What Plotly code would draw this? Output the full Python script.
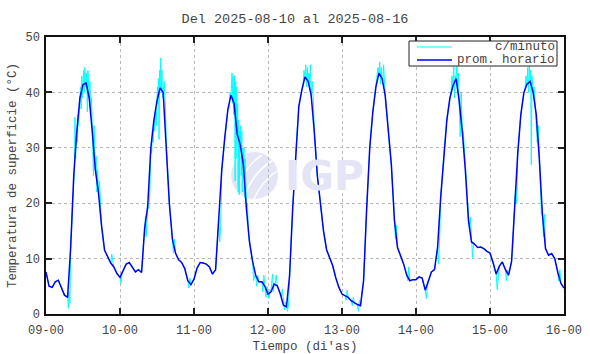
import plotly.graph_objects as go
import pandas as pd

# ---------------- data (hourly averages) ----------------
d09 = [7.6, 5.0, 4.8, 5.8, 6.1, 4.8, 3.4, 3.0, 12, 25, 33, 39, 41.4, 41.7, 39, 33, 26, 22, 16, 11.5, 10.4, 9.2, 8.5, 7.3]
d10 = [6.6, 7.9, 9.0, 9.3, 8.5, 7.6, 8.0, 7.5, 15.5, 19.5, 30, 35, 38.5, 40.8, 40, 31, 20, 13.5, 11, 9.8, 9.3, 8.2, 6.0, 5.3]
d11 = [6.3, 8.3, 9.3, 9.2, 9.0, 8.5, 7.2, 8.0, 17, 26, 32, 37, 39.5, 38, 32.5, 30.5, 27, 19, 13, 9.5, 7.0, 5.8, 5.8, 5.0]
d12 = [3.6, 4.0, 5.4, 5.1, 3.6, 1.6, 1.3, 7.0, 19, 29.5, 37.5, 40.5, 42.8, 42.0, 39.5, 33, 25, 20, 15, 11.6, 10.3, 8.7, 6.5, 4.8]
d13 = [3.6, 3.3, 3.0, 2.4, 2.0, 1.7, 1.5, 6.0, 19, 30, 36.5, 41, 43.5, 42.5, 39.5, 33, 27, 17, 12, 10.5, 9.0, 7.0, 6.0, 6.2]
d14 = [6.2, 6.7, 6.5, 4.3, 5.8, 7.6, 8.0, 12, 21, 28.5, 35, 39, 41.2, 42.5, 38.5, 33, 26, 17, 13, 12.6, 12.0, 12.1, 11.8, 11.3]
d15 = [11.0, 9.3, 7.2, 8.6, 9.4, 8.0, 7.0, 9.5, 20, 29, 36, 40, 41.5, 42, 40, 36, 28, 18, 11.8, 10.6, 10.9, 10.0, 7.5, 5.5]
end_value = [4.7]

# per-minute excursions: (day index, hour) -> values within that hour
minute_spikes = {
    (0, 7): [1.0, 4.0, 2.0], (0, 9): [26, 35.5, 28, 33], (0, 10): [31, 36, 34, 38],
    (0, 11): [41, 37, 43, 39], (0, 12): [44, 40, 44.5, 41], (0, 13): [43.5, 36.5, 44, 40],
    (0, 14): [42, 36, 39], (0, 15): [30, 25, 34, 28], (0, 16): [28.5, 22, 26], (0, 17): [24, 20.5],
    (0, 21): [10.8, 9.5],
    (1, 0): [5.5, 7.5], (1, 8): [17.6, 14, 16], (1, 9): [19, 22], (1, 10): [29, 33, 31],
    (1, 11): [33, 36.5, 34], (1, 12): [41, 38, 42.5, 31.5, 44], (1, 13): [46.2, 40, 44, 39],
    (1, 14): [42, 38.5], (1, 17): [11, 13.5], (1, 22): [4.7, 6.5],
    (2, 8): [13, 16], (2, 11): [37, 40], (2, 12): [41, 43.5, 38, 43, 36], (2, 13): [43, 24, 42, 28, 41],
    (2, 14): [38, 22, 35, 21.5, 33], (2, 15): [34, 25, 33, 22, 30], (2, 16): [30, 21, 28, 23],
    (2, 17): [20, 14], (2, 19): [6, 7], (2, 20): [5, 7], (2, 22): [4, 7], (2, 23): [3, 5],
    (3, 0): [2.8, 4.5], (3, 1): [6, 7.2, 4], (3, 2): [5.5, 7], (3, 4): [3.2, 4.5], (3, 5): [0.8, 2.2],
    (3, 6): [0.5, 1.8], (3, 11): [41, 44], (3, 12): [45, 41, 44.5], (3, 13): [43.5, 40.5, 45], (3, 14): [42, 39],
    (4, 1): [2.5, 4.3], (4, 3): [1.5, 3], (4, 5): [0.5, 2.5], (4, 11): [42, 44.5], (4, 12): [45.5, 41.5, 44.5],
    (4, 13): [42, 45, 41], (4, 17): [13.5, 16], (4, 21): [6, 8.5],
    (5, 3): [2.8, 5], (5, 7): [9, 14], (5, 11): [40, 43], (5, 12): [44.8, 39, 43], (5, 13): [45, 41, 43.5],
    (5, 14): [32, 40], (5, 15): [33, 30], (5, 16): [24, 20], (5, 17): [15, 17.5], (5, 18): [10.2, 13],
    (6, 2): [4.4, 7.5], (6, 5): [6, 8], (6, 7): [12, 17], (6, 8): [23, 20], (6, 11): [40.5, 43],
    (6, 12): [44.5, 40, 45], (6, 13): [44, 26.9, 43, 40], (6, 14): [41, 38], (6, 15): [31, 34],
    (6, 16): [23, 18], (6, 17): [14, 18], (6, 22): [6, 8],
}

title_text = "Del 2025-08-10 al 2025-08-16"
x_title = "Tiempo (di'as)"
y_title = "Temperatura de superficie (°C)"
legend_labels = ["c/minuto", "prom. horario"]

# ---------------- build series ----------------
hourly = d09 + d10 + d11 + d12 + d13 + d14 + d15 + end_value
times = pd.date_range("2025-08-09 00:00", periods=len(hourly), freq="h")

cyan_t, cyan_v = [], []
for i, v in enumerate(hourly):
    cyan_t.append(times[i])
    cyan_v.append(v)
    sp = minute_spikes.get(divmod(i, 24))
    if sp:
        n = len(sp)
        for k, s in enumerate(sp):
            cyan_t.append(times[i] + pd.Timedelta(minutes=60 * (k + 1) / (n + 1)))
            cyan_v.append(s)

MONO = "Liberation Mono, Courier New, monospace"
TXT = "#454545"

fig = go.Figure()
fig.add_trace(go.Scatter(x=cyan_t, y=cyan_v, mode="lines", name=legend_labels[0],
                         line=dict(color="#00ffff", width=1), showlegend=False))
fig.add_trace(go.Scatter(x=times, y=hourly, mode="lines", name=legend_labels[1],
                         line=dict(color="#0000ff", width=1.5), showlegend=False))

# plot area in pixels: x 46..564, y 37..314
L, R, T, B = 46, 564, 37, 314
def px(x):
    return (x - L) / (R - L)
def py(y):
    return (B - y) / (B - T)

shapes = []
annotations = []

# watermark logo (IGP)
wm = "rgb(228,228,247)"
shapes.append(dict(type="circle", xref="paper", yref="paper", layer="below",
                   x0=px(231), x1=px(278), y0=py(199), y1=py(152),
                   fillcolor=wm, line=dict(width=0)))
for (a, b, c) in [((236, 194), (244, 166), (262, 155)), ((244, 198), (252, 173), (272, 161)),
                  ((254, 199), (262, 181), (277, 171))]:
    shapes.append(dict(type="path", xref="paper", yref="paper", layer="below",
                       path=f"M {px(a[0])},{py(a[1])} Q {px(b[0])},{py(b[1])} {px(c[0])},{py(c[1])}",
                       line=dict(color="white", width=1.5)))
annotations.append(dict(text="<b>IGP</b>", xref="paper", yref="paper", x=px(324), y=py(176),
                        showarrow=False, font=dict(family="DejaVu Sans", size=41, color=wm),
                        xanchor="center", yanchor="middle"))

# legend box (drawn)
shapes.append(dict(type="rect", xref="paper", yref="paper", x0=px(409), x1=px(557),
                   y0=py(66), y1=py(41), line=dict(color="#222", width=1), fillcolor="white"))
for yy, col, w, lab in [(47, "#00ffff", 1.2, legend_labels[0]), (60, "#0000ff", 1.5, legend_labels[1])]:
    shapes.append(dict(type="line", xref="paper", yref="paper", x0=px(417), x1=px(452),
                       y0=py(yy), y1=py(yy), line=dict(color=col, width=w)))
    annotations.append(dict(text=lab, xref="paper", yref="paper", x=px(556), y=py(yy),
                            xanchor="right", yanchor="middle", showarrow=False,
                            height=12, borderpad=0,
                            font=dict(family=MONO, size=12.5, color=TXT)))

fig.update_layout(
    width=590, height=354,
    margin=dict(l=L, r=590 - R, t=T, b=354 - B, autoexpand=False),
    paper_bgcolor="white", plot_bgcolor="white",
    title=dict(text=title_text, x=0.5, xref="container", xanchor="center",
               y=1 - 18 / 354, yref="container", yanchor="middle",
               font=dict(family=MONO, size=13.5, color=TXT)),
    shapes=shapes, annotations=annotations, showlegend=False,
)
fig.update_xaxes(
    type="date", range=["2025-08-09 00:00", "2025-08-16 00:00"],
    dtick=86400000, tick0="2025-08-09", tickformat="%d-%H",
    showgrid=True, gridcolor="#b8b8b8", griddash="dot", gridwidth=1,
    showline=True, linecolor="#111", linewidth=1.5, mirror="allticks",
    ticks="inside", ticklen=6, tickcolor="#222", tickwidth=1.5,
    tickfont=dict(family=MONO, size=12, color=TXT), ticklabelstandoff=4,
    title=dict(text=x_title, font=dict(family=MONO, size=12.5, color=TXT), standoff=4),
    zeroline=False, automargin=False,
)
fig.update_yaxes(
    range=[0, 50], dtick=10,
    showgrid=True, gridcolor="#b8b8b8", griddash="dot", gridwidth=1,
    showline=True, linecolor="#111", linewidth=1.5, mirror="allticks",
    ticks="inside", ticklen=6, tickcolor="#222", tickwidth=1.5,
    tickfont=dict(family=MONO, size=12, color=TXT), ticklabelstandoff=2,
    title=dict(text=y_title, font=dict(family=MONO, size=12.5, color=TXT), standoff=6),
    zeroline=False, automargin=False,
)

fig.write_html("out.html")
